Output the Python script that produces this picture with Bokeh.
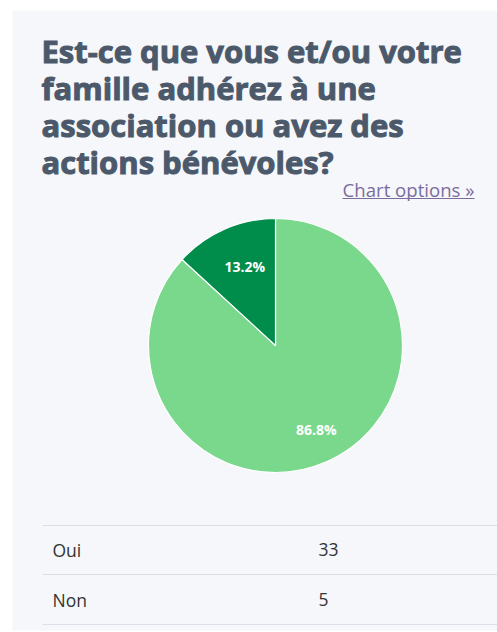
from math import pi
import math
from bokeh.plotting import figure
from bokeh.models import Range1d
from bokeh.core.properties import value
from bokeh.embed import file_html
from bokeh.resources import INLINE

# ---- data ----
title_lines = ["Est-ce que vous et/ou votre", "famille adhérez à une",
               "association ou avez des", "actions bénévoles?"]
categories = ["Oui", "Non"]
counts = [33, 5]
colors = ["#7ad88c", "#008c4b"]

W, H = 497, 632
def Y(py):
    return H - py

p = figure(width=W, height=H, output_backend="svg", toolbar_location=None,
           x_range=Range1d(0, W), y_range=Range1d(0, H),
           min_border=0, outline_line_color=None,
           background_fill_color="white", border_fill_color="white")
p.axis.visible = False
p.grid.visible = False

# panel
p.quad(left=12, right=497, top=Y(10), bottom=Y(630), fill_color="#f5f7fa", line_color=None)

# title
for i, t in enumerate(title_lines):
    p.text(x=[41], y=[Y(50 + i * 37.2)], text=[t], text_font=value("Open Sans"),
           text_font_style="bold", text_font_size="31px", text_color="#4b596b",
           text_outline_color="#4b596b",
           text_baseline="middle", text_align="left")

# chart options link
p.text(x=[474], y=[Y(189)], text=["Chart options »"], text_font=value("Open Sans"),
       text_font_size="18.6px", text_color="#7b6c9e", text_baseline="middle",
       text_align="right")
p.segment(x0=[342], x1=[474], y0=[Y(198)], y1=[Y(198)], line_color="#7b6c9e", line_width=1)

# pie
cx, cy, r = 275, 345, 127
total = sum(counts)
fr_non = counts[1] / total
a0 = pi / 2
a1 = a0 + 2 * pi * fr_non
p.wedge(x=[cx, cx], y=[Y(cy), Y(cy)], radius=r,
        start_angle=[a1, a0], end_angle=[a0 + 2 * pi, a1],
        fill_color=colors, line_color="white", line_width=1.2)

labels = [f"{c / total * 100:.1f}%" for c in counts]
mid_non = (a0 + a1) / 2
mid_oui = (a1 + a0 + 2 * pi) / 2
for lab, mid, rr in zip([labels[1], labels[0]], [mid_non, mid_oui], [0.66, 0.74]):
    p.text(x=[cx + rr * r * math.cos(mid) + 3], y=[Y(cy) + rr * r * math.sin(mid) + 2], text=[lab],
           text_font=value("Open Sans"), text_font_style="bold", text_font_size="14px",
           text_color="white", text_align="center", text_baseline="middle")

# table
for ly in [525, 574, 624]:
    p.segment(x0=[42], x1=[497], y0=[Y(ly)], y1=[Y(ly)], line_color="#dcdfe3", line_width=1)
for i, (c, n) in enumerate(zip(categories, counts)):
    yy = Y(549 + i * 50)
    p.text(x=[52], y=[yy], text=[c], text_font=value("Open Sans"), text_font_size="17.5px",
           text_color="#333333", text_baseline="middle")
    p.text(x=[318], y=[yy], text=[str(n)], text_font=value("Open Sans"), text_font_size="17.5px",
           text_color="#333333", text_baseline="middle")

open("out.html", "w").write(file_html(p, INLINE))
